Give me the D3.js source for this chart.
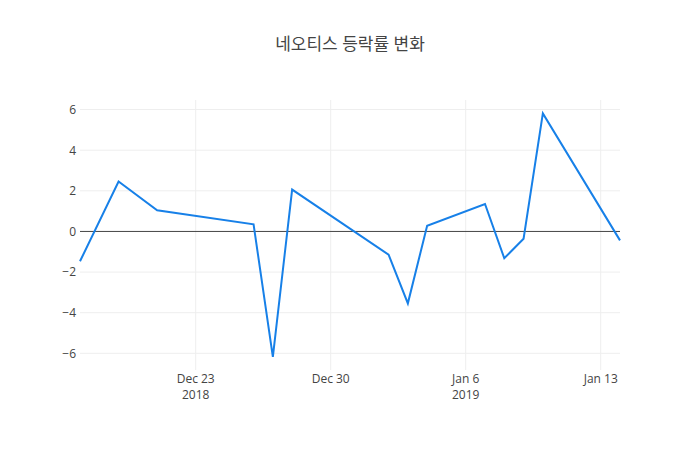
<!DOCTYPE html>
<html>
<head>
<meta charset="utf-8">
<script src="https://cdn.jsdelivr.net/npm/d3@7"></script>
<style>
  body { margin: 0; background: #fff; }
  svg { font-family: "Open Sans", "Noto Sans CJK KR", sans-serif; }
</style>
</head>
<body>
<div id="chart"></div>
<script>
// 네오티스 daily change (%)
const dates = ["2018-12-17", "2018-12-19", "2018-12-21", "2018-12-26", "2018-12-27", "2018-12-28",
  "2019-01-02", "2019-01-03", "2019-01-04", "2019-01-07", "2019-01-08", "2019-01-09",
  "2019-01-10", "2019-01-14"];
const changes = [-1.47, 2.46, 1.04, 0.35, -6.17, 2.06, -1.14, -3.54, 0.28, 1.35, -1.32, -0.36, 5.81, -0.44];
const yTicks = [-6, -4, -2, 0, 2, 4, 6];
const xTicks = ["2018-12-23", "2018-12-30", "2019-01-06", "2019-01-13"];
const xTickLabels = [["Dec 23", "2018"], ["Dec 30", ""], ["Jan 6", "2019"], ["Jan 13", ""]];

const width = 700, height = 450;
const margin = { top: 100, right: 80, bottom: 80, left: 80 };
const parse = d3.timeParse("%Y-%m-%d");
const points = dates.map((d, i) => ({ date: parse(d), value: changes[i] }));

const svg = d3.select("#chart").append("svg")
    .attr("width", width)
    .attr("height", height);

const x = d3.scaleTime()
    .domain(d3.extent(points, d => d.date))
    .range([margin.left, width - margin.right]);

const y = d3.scaleLinear()
    .domain([-6.82, 6.47])
    .range([height - margin.bottom, margin.top]);

// grid
svg.append("g")
    .selectAll("line")
    .data(xTicks.map(parse))
    .enter()
    .append("line")
    .attr("x1", d => x(d)).attr("x2", d => x(d))
    .attr("y1", margin.top).attr("y2", height - margin.bottom)
    .attr("stroke", "#eee");

svg.append("g")
    .selectAll("line")
    .data(yTicks.filter(d => d !== 0))
    .enter()
    .append("line")
    .attr("x1", margin.left).attr("x2", width - margin.right)
    .attr("y1", d => y(d)).attr("y2", d => y(d))
    .attr("stroke", "#eee");

// zero line
svg.append("line")
    .attr("x1", margin.left).attr("x2", width - margin.right)
    .attr("y1", y(0)).attr("y2", y(0))
    .attr("stroke", "#444")
    .attr("stroke-width", 1);

// y axis labels
const yAxis = d3.axisLeft(y)
    .tickValues(yTicks)
    .tickSize(0)
    .tickPadding(4)
    .tickFormat(d => d < 0 ? "\u2212" + Math.abs(d) : d);

svg.append("g")
    .attr("transform", `translate(${margin.left},0)`)
    .call(yAxis)
    .call(g => g.select(".domain").remove())
    .selectAll("text")
    .attr("font-size", 12)
    .attr("fill", "#444")
    .attr("font-family", "Open Sans");

// x axis labels
const xAxis = svg.append("g")
    .selectAll("text")
    .data(xTicks.map((d, i) => ({ date: parse(d), lines: xTickLabels[i] })))
    .enter()
    .append("text")
    .attr("x", d => x(d.date))
    .attr("y", height - margin.bottom + 4)
    .attr("text-anchor", "middle")
    .attr("font-size", 12)
    .attr("fill", "#444");

xAxis.each(function (d) {
    const t = d3.select(this);
    d.lines.forEach((l, j) => {
        if (!l) return;
        t.append("tspan")
            .attr("x", x(d.date))
            .attr("dy", j === 0 ? "0.71em" : "1.35em")
            .text(l);
    });
});

// line
const line = d3.line()
    .x(d => x(d.date))
    .y(d => y(d.value));

svg.append("path")
    .datum(points)
    .attr("d", line)
    .attr("fill", "none")
    .attr("stroke", "#1780e8")
    .attr("stroke-width", 2)
    .attr("stroke-linejoin", "miter");

// title
svg.append("text")
    .attr("x", width / 2)
    .attr("y", 50)
    .attr("text-anchor", "middle")
    .attr("font-size", 17)
    .attr("fill", "#444")
    .text("네오티스 등락률 변화");
</script>
</body>
</html>
